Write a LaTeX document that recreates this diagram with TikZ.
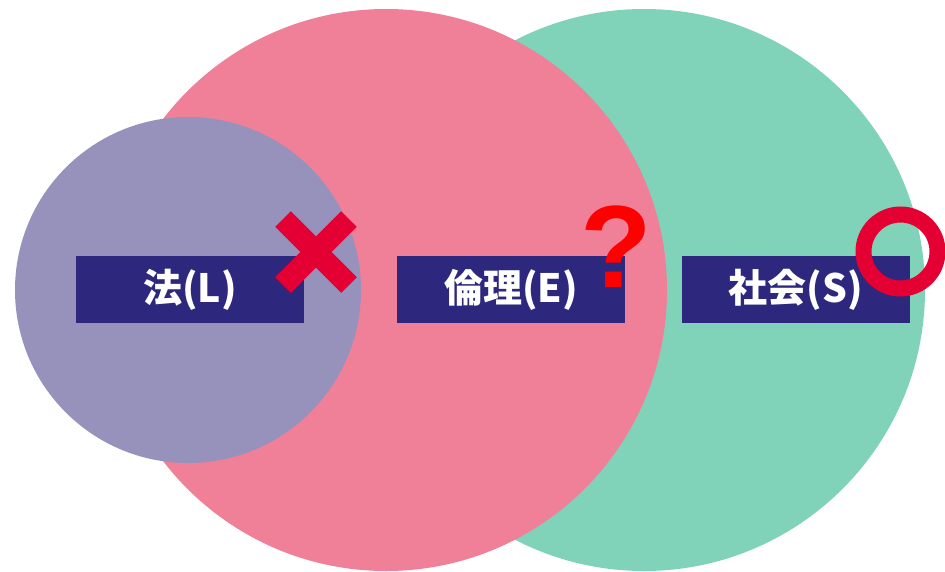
\documentclass[tikz,border=0pt]{standalone}
\usepackage{fontspec}
\setmainfont{Noto Sans CJK JP}
\newfontfamily\qfont{Liberation Sans}
\definecolor{cgreen}{RGB}{128,210,185}
\definecolor{cpink}{RGB}{240,128,152}
\definecolor{cpurple}{RGB}{150,146,188}
\definecolor{cnavy}{RGB}{45,39,125}
\definecolor{cmark}{RGB}{228,0,50}
\tikzset{
  lbox/.style={fill=cnavy, text=white, minimum width=228pt, minimum height=67pt, inner sep=0pt,
    font=\fontsize{39}{39}\selectfont\bfseries},
  xarm/.style={draw=cmark, line width=22pt},
}
\begin{document}
\begin{tikzpicture}[x=1pt,y=-1pt]
\useasboundingbox (0,0) rectangle (945,571);
\fill[cgreen] (644,290) circle (281);
\fill[cpink] (386,290) circle (281);
\fill[cpurple] (188,290) circle (173);
\node[lbox] (L) at (190,289.5) {法(L)};
\node[lbox] (E) at (511,289.5) {倫理(E)};
\node[lbox] (S) at (796,289.5) {社会(S)};
\coordinate (xc) at (316,252);
\draw[xarm] ([shift={(-33,-33)}]xc) -- ([shift={(33,33)}]xc);
\draw[xarm] ([shift={(33,-33)}]xc) -- ([shift={(-33,33)}]xc);
\node[text=red, inner sep=0pt, anchor=base, font=\qfont\bfseries\fontsize{117}{117}\selectfont] (q) at (616.5,287) {?};
\draw[cmark, line width=16pt] (900.5,251.5) circle (37);
\end{tikzpicture}
\end{document}
